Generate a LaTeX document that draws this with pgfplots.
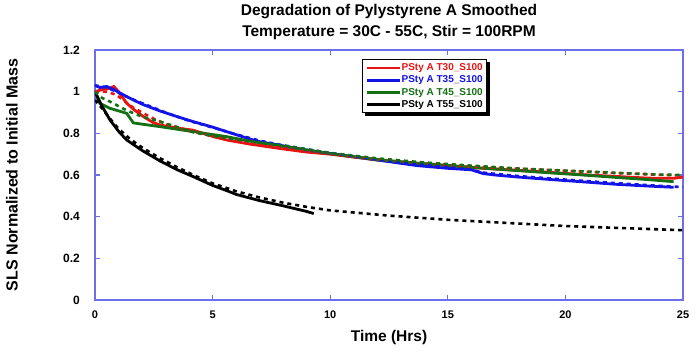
\documentclass[border=0pt]{standalone}
\usepackage{fontspec}
\setmainfont{Liberation Sans}
\usepackage{pgfplots}
\pgfplotsset{compat=1.18}
\definecolor{cred}{RGB}{232,20,20}
\definecolor{cblue}{RGB}{20,20,232}
\definecolor{cgreen}{RGB}{20,112,20}
\definecolor{caxis}{RGB}{110,110,235}
\begin{document}
\begin{tikzpicture}
\begin{axis}[
  scale only axis, width=588pt, height=250pt,
  xmin=0, xmax=25, ymin=0, ymax=1.2,
  xtick={0,5,...,25}, ytick={0,0.2,...,1.2},
  axis line style={draw=caxis, line width=1.2pt},
  major tick style={draw=caxis, line width=1.2pt},
  major tick length=5pt,
  tick align=inside,
  /pgf/number format/assume math mode=true,
  xticklabel style={font=\fontsize{11}{13}\selectfont\bfseries, anchor=north, inner sep=0pt, yshift=-11pt},
  yticklabel style={font=\fontsize{12}{14}\selectfont\bfseries, anchor=east, inner sep=0pt, xshift=-15pt},
  title={Degradation of Pylystyrene A Smoothed\\Temperature = 30C - 55C, Stir = 100RPM},
  title style={align=center, font=\fontsize{15.5}{21}\selectfont\bfseries, at={(axis description cs:0.5,1)}, anchor=south, inner sep=0pt, yshift=4.5pt},
  xlabel={Time (Hrs)},
  xlabel style={font=\fontsize{15.5}{18}\selectfont\bfseries, at={(axis description cs:0.5,0)}, anchor=base, inner sep=0pt, yshift=-41pt},
  ylabel={SLS Normalized to Initial Mass},
  ylabel style={font=\fontsize{16}{18}\selectfont\bfseries, at={(axis description cs:0,0.5)}, anchor=center, inner sep=0pt, yshift=83pt},
  legend style={name=leg, at={(axis description cs:0.56,0.963)}, anchor=north, draw=black, line width=1pt, fill=white,
    font=\fontsize{10}{11}\selectfont\bfseries, inner sep=3pt, row sep=1.7pt,
    nodes={inner sep=0.5pt, text height=7.5pt, text depth=2pt}},
  legend cell align=left,
  legend image code/.code={\draw[#1] (0pt,0pt) -- (33pt,0pt);},
  thickline/.style={line width=2.8pt},
  dotline/.style={line width=2.6pt, dash pattern=on 4pt off 4pt},
]
% solid curves
\addplot[cred, thickline] coordinates {(0,1.00) (0.3,1.01) (0.6,1.015) (0.8,1.025) (1.0,1.0) (1.35,0.944) (1.7,0.91) (2.06,0.88) (2.5,0.85) (2.77,0.84) (3.5,0.825) (4.18,0.815) (5,0.785) (5.6,0.768) (6.6,0.748) (8,0.725) (9,0.71) (10,0.70) (10.85,0.688) (12,0.672) (13.7,0.655) (15,0.645) (16.5,0.632) (18,0.622) (19.4,0.612) (21,0.6) (22.2,0.593) (23.5,0.585) (24.6,0.584) (25,0.59)};
\addlegendentry{\textcolor{cred}{PSty A T30\_S100}}
\addplot[cblue, thickline] coordinates {(0,1.03) (0.2,1.02) (0.5,1.025) (0.8,1.01) (1.35,0.976) (2,0.94) (2.77,0.907) (3.5,0.88) (4.18,0.856) (5,0.83) (5.6,0.808) (6.6,0.772) (7,0.76) (8,0.74) (9,0.72) (10.85,0.69) (12,0.672) (13.7,0.645) (15,0.632) (16,0.625) (16.5,0.607) (17,0.6) (18,0.59) (19.4,0.578) (21,0.565) (22.2,0.555) (23.5,0.547) (24.6,0.541)};
\addlegendentry{\textcolor{cblue}{PSty A T35\_S100}}
\addplot[cgreen, thickline] coordinates {(0,1.0) (0.2,0.944) (0.64,0.92) (1.35,0.896) (1.63,0.85) (2.77,0.832) (4.18,0.808) (5.6,0.784) (6.6,0.762) (8,0.738) (10,0.702) (10.85,0.69) (12,0.674) (13.7,0.657) (15,0.646) (16.5,0.633) (18,0.621) (19.4,0.61) (21,0.598) (22.2,0.588) (23.5,0.578) (24.6,0.568)};
\addlegendentry{\textcolor{cgreen}{PSty A T45\_S100}}
\addplot[black, thickline] coordinates {(0,1.0) (0.3,0.93) (0.64,0.864) (1,0.81) (1.35,0.768) (2,0.718) (2.77,0.667) (3.5,0.625) (4.18,0.592) (5,0.55) (5.6,0.525) (6,0.507) (7,0.477) (8,0.452) (9,0.425) (9.3,0.415)};
\addlegendentry{\textcolor{black}{PSty A T55\_S100}}
% dotted curves
\addplot[cred, dotline, forget plot] coordinates {(0,1.0) (0.5,1.0) (0.9,0.985) (1.2,0.96) (1.6,0.925) (2.0,0.9) (2.5,0.87) (3,0.845) (4,0.812) (5,0.787) (6,0.765) (7,0.745) (8,0.73) (10,0.70) (12,0.675) (14,0.656) (16,0.641) (18,0.63) (20,0.62) (22,0.61) (24,0.601) (25,0.597)};
\addplot[cblue, dotline, forget plot] coordinates {(0,1.03) (0.5,1.02) (1,0.995) (1.5,0.968) (2,0.945) (3,0.9) (4,0.86) (5,0.828) (6,0.795) (7,0.765) (8,0.742) (10,0.705) (12,0.675) (14,0.65) (16,0.625) (16.6,0.61) (18,0.595) (20,0.578) (22,0.562) (24,0.548) (25,0.542)};
\addplot[cgreen, dotline, forget plot] coordinates {(0,1.0) (0.3,0.97) (0.64,0.952) (1.35,0.91) (2,0.88) (2.77,0.856) (3.5,0.83) (4.18,0.805) (5,0.787) (6,0.77) (8,0.742) (10,0.706) (12,0.68) (14,0.66) (16,0.645) (18,0.631) (20,0.621) (22,0.611) (24,0.602) (25,0.6)};
\addplot[black, dotline, forget plot] coordinates {(0,0.96) (0.3,0.92) (0.64,0.87) (1,0.822) (1.5,0.772) (2,0.732) (2.77,0.68) (3.5,0.637) (4.18,0.6) (5,0.56) (6,0.522) (7,0.492) (8,0.467) (9,0.447) (10,0.43) (12.5,0.405) (15,0.385) (17.5,0.37) (20,0.355) (22.5,0.345) (25,0.335)};
\end{axis}
\fill[black] ([yshift=-3pt]leg.north east) rectangle ([xshift=3pt,yshift=-3pt]leg.south east);
\fill[black] ([xshift=3pt]leg.south west) rectangle ([xshift=3pt,yshift=-3pt]leg.south east);
\pgfresetboundingbox
\path ([xshift=-95pt,yshift=-51pt]current axis.south west) rectangle ([xshift=14pt,yshift=50pt]current axis.north east);
\end{tikzpicture}
\end{document}
